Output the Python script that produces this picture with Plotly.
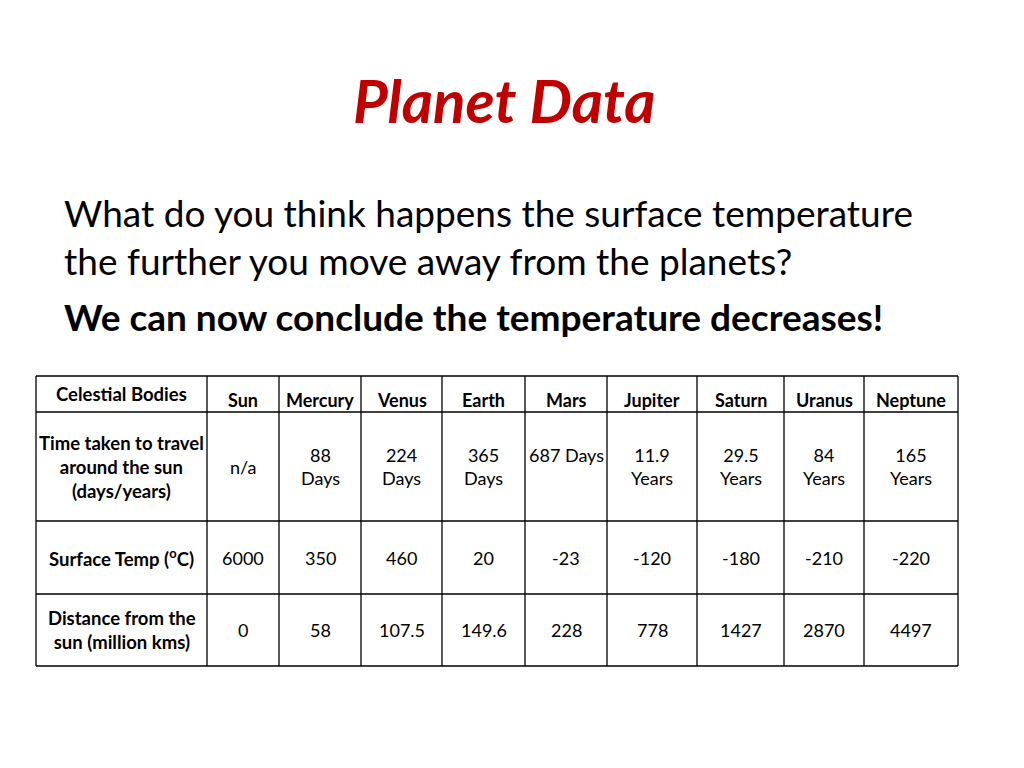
import plotly.graph_objects as go

title = "Planet Data"
question = ["What do you think happens the surface temperature", "the further you move away from the planets?"]
conclusion = "We can now conclude the temperature decreases!"

bodies = ["Sun", "Mercury", "Venus", "Earth", "Mars", "Jupiter", "Saturn", "Uranus", "Neptune"]
row_labels = ["Celestial Bodies", "Time taken to travel<br>around the sun<br>(days/years)",
              "Surface Temp (<sup>o</sup>C)", "Distance from the<br>sun (million kms)"]
orbit = ["n/a", "88<br>Days", "224<br>Days", "365<br>Days", "687 Days", "11.9<br>Years",
         "29.5<br>Years", "84<br>Years", "165<br>Years"]
temp = ["6000", "350", "460", "20", "-23", "-120", "-180", "-210", "-220"]
dist = ["0", "58", "107.5", "149.6", "228", "778", "1427", "2870", "4497"]

col_edges = [36, 207, 279, 361, 442, 525, 607, 697, 784, 864, 958]
row_edges = [376, 412, 521, 594, 666]

fig = go.Figure()
FONT = "Lato, Carlito, sans-serif"
ann = []
ann.append(dict(x=504, y=100, text="<b><i>" + title + "</i></b>", showarrow=False,
                font=dict(family=FONT, size=60, color="#C00000")))
for i, line in enumerate(question):
    ann.append(dict(x=62, y=212 + 48 * i, text=line, xanchor="left", showarrow=False,
                    font=dict(family=FONT, size=37, color="black")))
ann.append(dict(x=62, y=316, text="<b>" + conclusion + "</b>", xanchor="left", showarrow=False,
                font=dict(family=FONT, size=37, color="black")))

shapes = []
for x in col_edges:
    shapes.append(dict(type="line", x0=x, x1=x, y0=row_edges[0], y1=row_edges[-1],
                       line=dict(color="black", width=1.3)))
for y in row_edges:
    shapes.append(dict(type="line", x0=col_edges[0], x1=col_edges[-1], y0=y, y1=y,
                       line=dict(color="black", width=1.3)))

rows = [bodies, orbit, temp, dist]
tf = dict(family=FONT, size=18, color="black")
lf = dict(family=FONT, size=18.5, color="black")
for r in range(4):
    ymid = (row_edges[r] + row_edges[r + 1]) / 2
    if r == 0:
        ly, lya = 394, "middle"
    elif r == 1:
        ly, lya = 430, "top"
    else:
        ly, lya = ymid, "middle"
    ann.append(dict(x=(col_edges[0] + col_edges[1]) / 2, y=ly, yanchor=lya,
                    text="<b>" + row_labels[r] + "</b>", showarrow=False, font=lf))
    for c, val in enumerate(rows[r]):
        xc = (col_edges[c + 1] + col_edges[c + 2]) / 2
        if r == 0:
            y, ya, t = 400, "middle", "<b>" + val + "</b>"
        elif r == 1:
            y, ya, t = (467, "middle", val) if val == "n/a" else (442, "top", val)
        else:
            y, ya, t = ymid, "middle", val
        ann.append(dict(x=xc, y=y, yanchor=ya, text=t, showarrow=False, font=tf))

fig.update_layout(width=1024, height=768, margin=dict(l=0, r=0, t=0, b=0),
                  paper_bgcolor="white", plot_bgcolor="white",
                  xaxis=dict(range=[8, 1032], visible=False, fixedrange=True),
                  yaxis=dict(range=[776, 8], visible=False, fixedrange=True),
                  annotations=ann, shapes=shapes, showlegend=False)
fig.write_html("out.html")
